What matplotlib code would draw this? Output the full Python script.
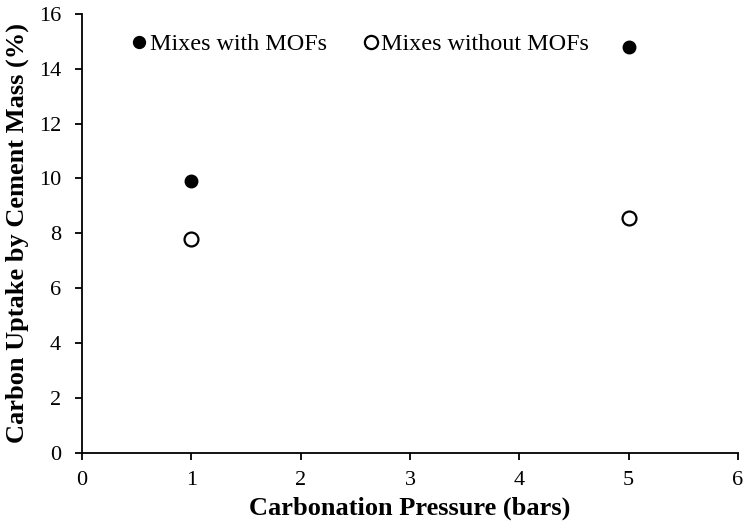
import numpy as np
import matplotlib.pyplot as plt

plt.rcParams['font.family'] = ['Liberation Serif', 'DejaVu Serif']

pressure = [1, 5]
with_mofs = [9.9, 14.8]
without_mofs = [7.8, 8.55]

fig, ax = plt.subplots(figsize=(7.44, 5.31), dpi=100)
fig.subplots_adjust(left=0.11, right=0.992, top=0.974, bottom=0.147)

ax.plot(pressure, with_mofs, 'o', color='black', markersize=9, label='Mixes with MOFs')
ax.plot(pressure, without_mofs, 'o', markerfacecolor='white', markeredgecolor='black',
        markeredgewidth=1.6, markersize=10, label='Mixes without MOFs')

ax.set_xlim(0, 6)
ax.set_ylim(0, 16)
ax.set_xticks(range(0, 7))
ax.set_yticks(range(0, 17, 2))
ax.tick_params(direction='out', length=5, width=1.3, labelsize=16)
ax.tick_params(axis='y', pad=10)
ax.tick_params(axis='x', pad=8)
for s in ['top', 'right']:
    ax.spines[s].set_visible(False)
for s in ['left', 'bottom']:
    ax.spines[s].set_linewidth(1.3)

ax.set_xlabel('Carbonation Pressure (bars)', fontsize=19, fontweight='bold', labelpad=5)
ax.set_ylabel('Carbon Uptake by Cement Mass (%)', fontsize=19, fontweight='bold', labelpad=7)

ax.legend(loc='upper left', bbox_to_anchor=(0.0726, 0.955), ncol=2, frameon=False,
          fontsize=17.4, borderaxespad=0, borderpad=0, handlelength=0.8,
          handletextpad=0.05, columnspacing=1.4, markerscale=0.95)

fig.savefig('out.png')
